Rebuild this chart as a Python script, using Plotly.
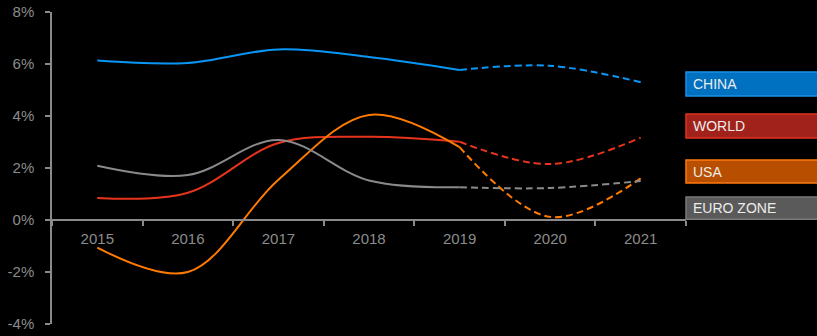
import plotly.graph_objects as go

years = ["2015", "2016", "2017", "2018", "2019", "2020", "2021"]
china = [6.13, 6.04, 6.56, 6.27, 5.77, 5.93, 5.30]
world = [0.85, 1.05, 2.96, 3.20, 3.01, 2.15, 3.17]
usa = [-1.06, -2.00, 1.55, 4.04, 2.80, 0.12, 1.60]
euro = [2.09, 1.73, 3.08, 1.52, 1.26, 1.23, 1.50]

names = ["CHINA", "WORLD", "USA", "EURO ZONE"]
line_colors = ["#0a96f5", "#e8341c", "#ff7a00", "#8a8a8a"]
box_fill = ["#0070c0", "#a0221a", "#b84e00", "#5a5a5a"]
box_line = ["#1a90e8", "#e0321e", "#ff7a10", "#7a7a7a"]
box_y = [(5.69, 4.77), (4.08, 3.15), (2.31, 1.42), (0.88, 0.03)]
series = [china, world, usa, euro]

split = 4  # index of 2019: solid up to here, dashed after

fig = go.Figure()
for vals, col in zip(series, line_colors):
    fig.add_trace(go.Scatter(x=years[:split + 1], y=vals[:split + 1], mode="lines",
                             line=dict(color=col, width=2, shape="spline", smoothing=1),
                             showlegend=False, hoverinfo="skip"))
    fig.add_trace(go.Scatter(x=years[split:], y=vals[split:], mode="lines",
                             line=dict(color=col, width=2, shape="spline", smoothing=1, dash="7px,4px"),
                             showlegend=False, hoverinfo="skip"))

W, H = 817, 336
ml, mr, mt, mb = 52, 131, 12, 12
pw = W - ml - mr

shapes = []
annotations = []
for name, fc, lc, (y1, y0) in zip(names, box_fill, box_line, box_y):
    shapes.append(dict(type="rect", xref="paper", yref="y", x0=1.0, x1=1 + 140 / pw,
                       y0=y0, y1=y1, fillcolor=fc, line=dict(color=lc, width=1.5), layer="above"))
    annotations.append(dict(xref="paper", yref="y", x=1 + 5 / pw, y=(y0 + y1) / 2,
                            text=name, showarrow=False, xanchor="left", yanchor="middle",
                            font=dict(family="Liberation Sans, Arial", size=14, color="#ececec")))

fig.update_layout(
    width=W, height=H,
    margin=dict(l=ml, r=mr, t=mt, b=mb, autoexpand=False),
    paper_bgcolor="black", plot_bgcolor="black",
    font=dict(family="Liberation Sans, Arial", size=15, color="#8c8c8c"),
    shapes=shapes, annotations=annotations,
    xaxis=dict(type="category", categoryorder="array", categoryarray=years,
               range=[-0.5, 6.5], showgrid=False, zeroline=False, automargin=False,
               showline=True, linecolor="#8a8a8a", linewidth=1.5,
               ticks="outside", tickson="boundaries", ticklen=5, tickcolor="#8a8a8a", tickwidth=1.5,
               ticklabelstandoff=5,
               anchor="free", position=1 / 3, tickfont=dict(size=15, color="#8c8c8c")),
    yaxis=dict(range=[-4, 8], tickvals=[-4, -2, 0, 2, 4, 6, 8], automargin=False,
               ticktext=["-4%", "-2%", "0%", "2%", "4%", "6%", "8%"],
               showgrid=False, zeroline=False, showline=True, linecolor="#8a8a8a", linewidth=1.5,
               ticks="outside", ticklen=5, tickcolor="#8a8a8a", tickwidth=1.5,
               ticklabelstandoff=8, tickfont=dict(size=15, color="#8c8c8c")),
)

fig.write_html("out.html")
